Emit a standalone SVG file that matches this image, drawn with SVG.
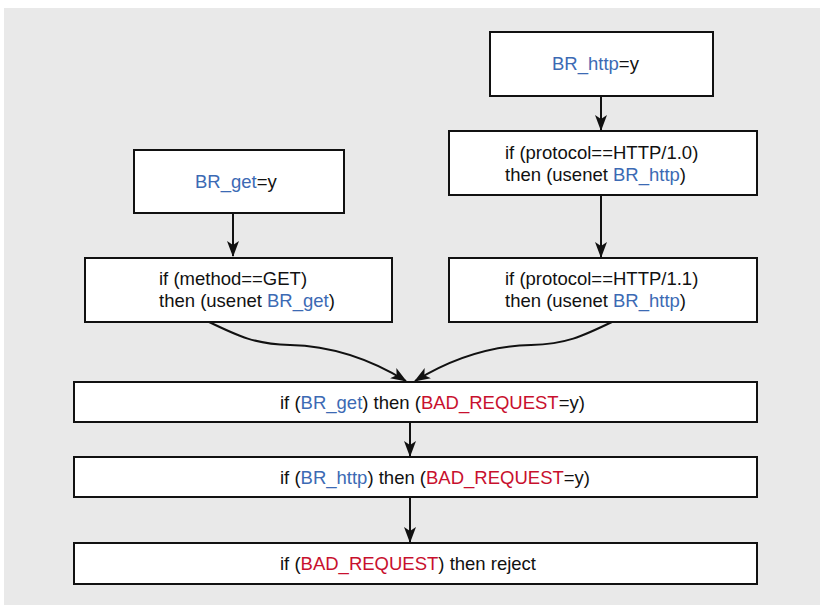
<svg xmlns="http://www.w3.org/2000/svg" width="820" height="605" viewBox="0 0 820 605">
<defs>
<style>
.box{fill:#fff;stroke:#111;stroke-width:2}
.t{font-family:"Liberation Sans",Arial,sans-serif;font-size:18.5px;fill:#111}
.b{fill:#3c6ab4}
.r{fill:#c8102e}
.c{fill:none;stroke:#111;stroke-width:2}
</style>
<marker id="ah" markerUnits="userSpaceOnUse" viewBox="0 0 16 12" markerWidth="16" markerHeight="12" refX="15" refY="6" orient="auto">
<path d="M0,0 L16,6 L0,12 L4,6 Z" fill="#111"/>
</marker>
</defs>
<rect x="4" y="8" width="816" height="597" fill="#e9e9e9"/>
<g id="connectors">
<path class="c" d="M601,96 L601,130" marker-end="url(#ah)"/>
<path class="c" d="M233,213 L233,256" marker-end="url(#ah)"/>
<path class="c" d="M601,195 L601,257" marker-end="url(#ah)"/>
<path class="c" d="M207,321 C240,337 255,344 290,345 C335,346 375,362 406,381" marker-end="url(#ah)"/>
<path class="c" d="M614,321 C581,337 566,344 531,345 C486,346 446,362 415,381" marker-end="url(#ah)"/>
<path class="c" d="M410,422 L410,456" marker-end="url(#ah)"/>
<path class="c" d="M410,497 L410,542" marker-end="url(#ah)"/>
</g>
<g id="n_br_http">
<rect class="box" x="490" y="32" width="223" height="64"/>
<text class="t" x="552" y="70"><tspan class="b">BR_http</tspan>=y</text>
</g>
<g id="n_proto10">
<rect class="box" x="449" y="131" width="308" height="64"/>
<text class="t" x="505" y="159">if (protocol==HTTP/1.0)</text>
<text class="t" x="505" y="181">then (usenet <tspan class="b">BR_http</tspan>)</text>
</g>
<g id="n_br_get">
<rect class="box" x="134" y="150" width="210" height="63"/>
<text class="t" x="195" y="188"><tspan class="b">BR_get</tspan>=y</text>
</g>
<g id="n_method">
<rect class="box" x="85" y="258" width="307" height="64"/>
<text class="t" x="159" y="285">if (method==GET)</text>
<text class="t" x="159" y="307">then (usenet <tspan class="b">BR_get</tspan>)</text>
</g>
<g id="n_proto11">
<rect class="box" x="449" y="258" width="308" height="64"/>
<text class="t" x="505" y="285">if (protocol==HTTP/1.1)</text>
<text class="t" x="505" y="307">then (usenet <tspan class="b">BR_http</tspan>)</text>
</g>
<g id="n_bad1">
<rect class="box" x="74" y="382" width="683" height="40"/>
<text class="t" x="280" y="409">if (<tspan class="b">BR_get</tspan>) then (<tspan class="r">BAD_REQUEST</tspan>=y)</text>
</g>
<g id="n_bad2">
<rect class="box" x="74" y="457" width="683" height="40"/>
<text class="t" x="280" y="484">if (<tspan class="b">BR_http</tspan>) then (<tspan class="r">BAD_REQUEST</tspan>=y)</text>
</g>
<g id="n_reject">
<rect class="box" x="74" y="543" width="683" height="41"/>
<text class="t" x="280" y="570">if (<tspan class="r">BAD_REQUEST</tspan>) then reject</text>
</g>
</svg>
